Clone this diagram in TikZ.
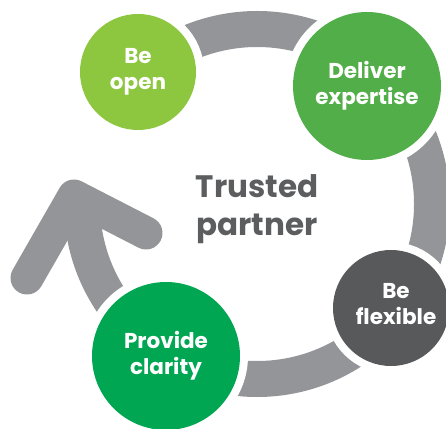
\documentclass[tikz,border=0pt]{standalone}
\usepackage{fontspec}
\setmainfont{Poppins}
\definecolor{ringgray}{HTML}{939598}
\definecolor{opengreen}{HTML}{8DC63F}
\definecolor{expertgreen}{HTML}{52AE49}
\definecolor{claritygreen}{HTML}{00A651}
\definecolor{flexgray}{HTML}{58595B}
\definecolor{hubtext}{HTML}{5C5D5F}
\tikzset{
  stagetext/.style={text=white, align=center,
    font=\bfseries\fontsize{21.5}{26}\selectfont},
  stage/.style={circle, inner sep=0pt, outer sep=0pt, minimum size=#1,
    preaction={draw=white, line width=16pt}, stagetext},
  cycle/.style={draw=ringgray, line width=36pt},
  head/.style={draw=ringgray, line width=33pt, line cap=round, line join=round}
}
\begin{document}
\begin{tikzpicture}[x=1pt,y=1pt]
\useasboundingbox (0,0) rectangle (446,428);
% the cycle ring and its arrowhead
\coordinate (hub) at (257,224);
\draw[cycle] (hub) ++(180:175) arc[start angle=180, end angle=495, radius=175];
\coordinate (armL) at (27,150);
\coordinate (tip) at (74,232);
\coordinate (armR) at (146,195);
\draw[head] (armL) -- (tip) -- (armR);
% stages around the cycle
\node[stage=116pt, fill=opengreen] (open) at (138,356) {Be\\open};
\node[stage=148pt, fill=expertgreen] (expert) at (367,342) {Deliver\\expertise};
\node[stage=116pt, fill=flexgray] (flex) at (391,120) {};
\node[stagetext] (flextext) at (396,124) {Be\\flexible};
\node[stage=148pt, fill=claritygreen] (clarity) at (166,72) {Provide\\clarity};
% centre label
\node[text=hubtext, align=center, font=\bfseries\fontsize{31}{38}\selectfont] (centre) at (257,219) {Trusted\\partner};
\end{tikzpicture}
\end{document}
